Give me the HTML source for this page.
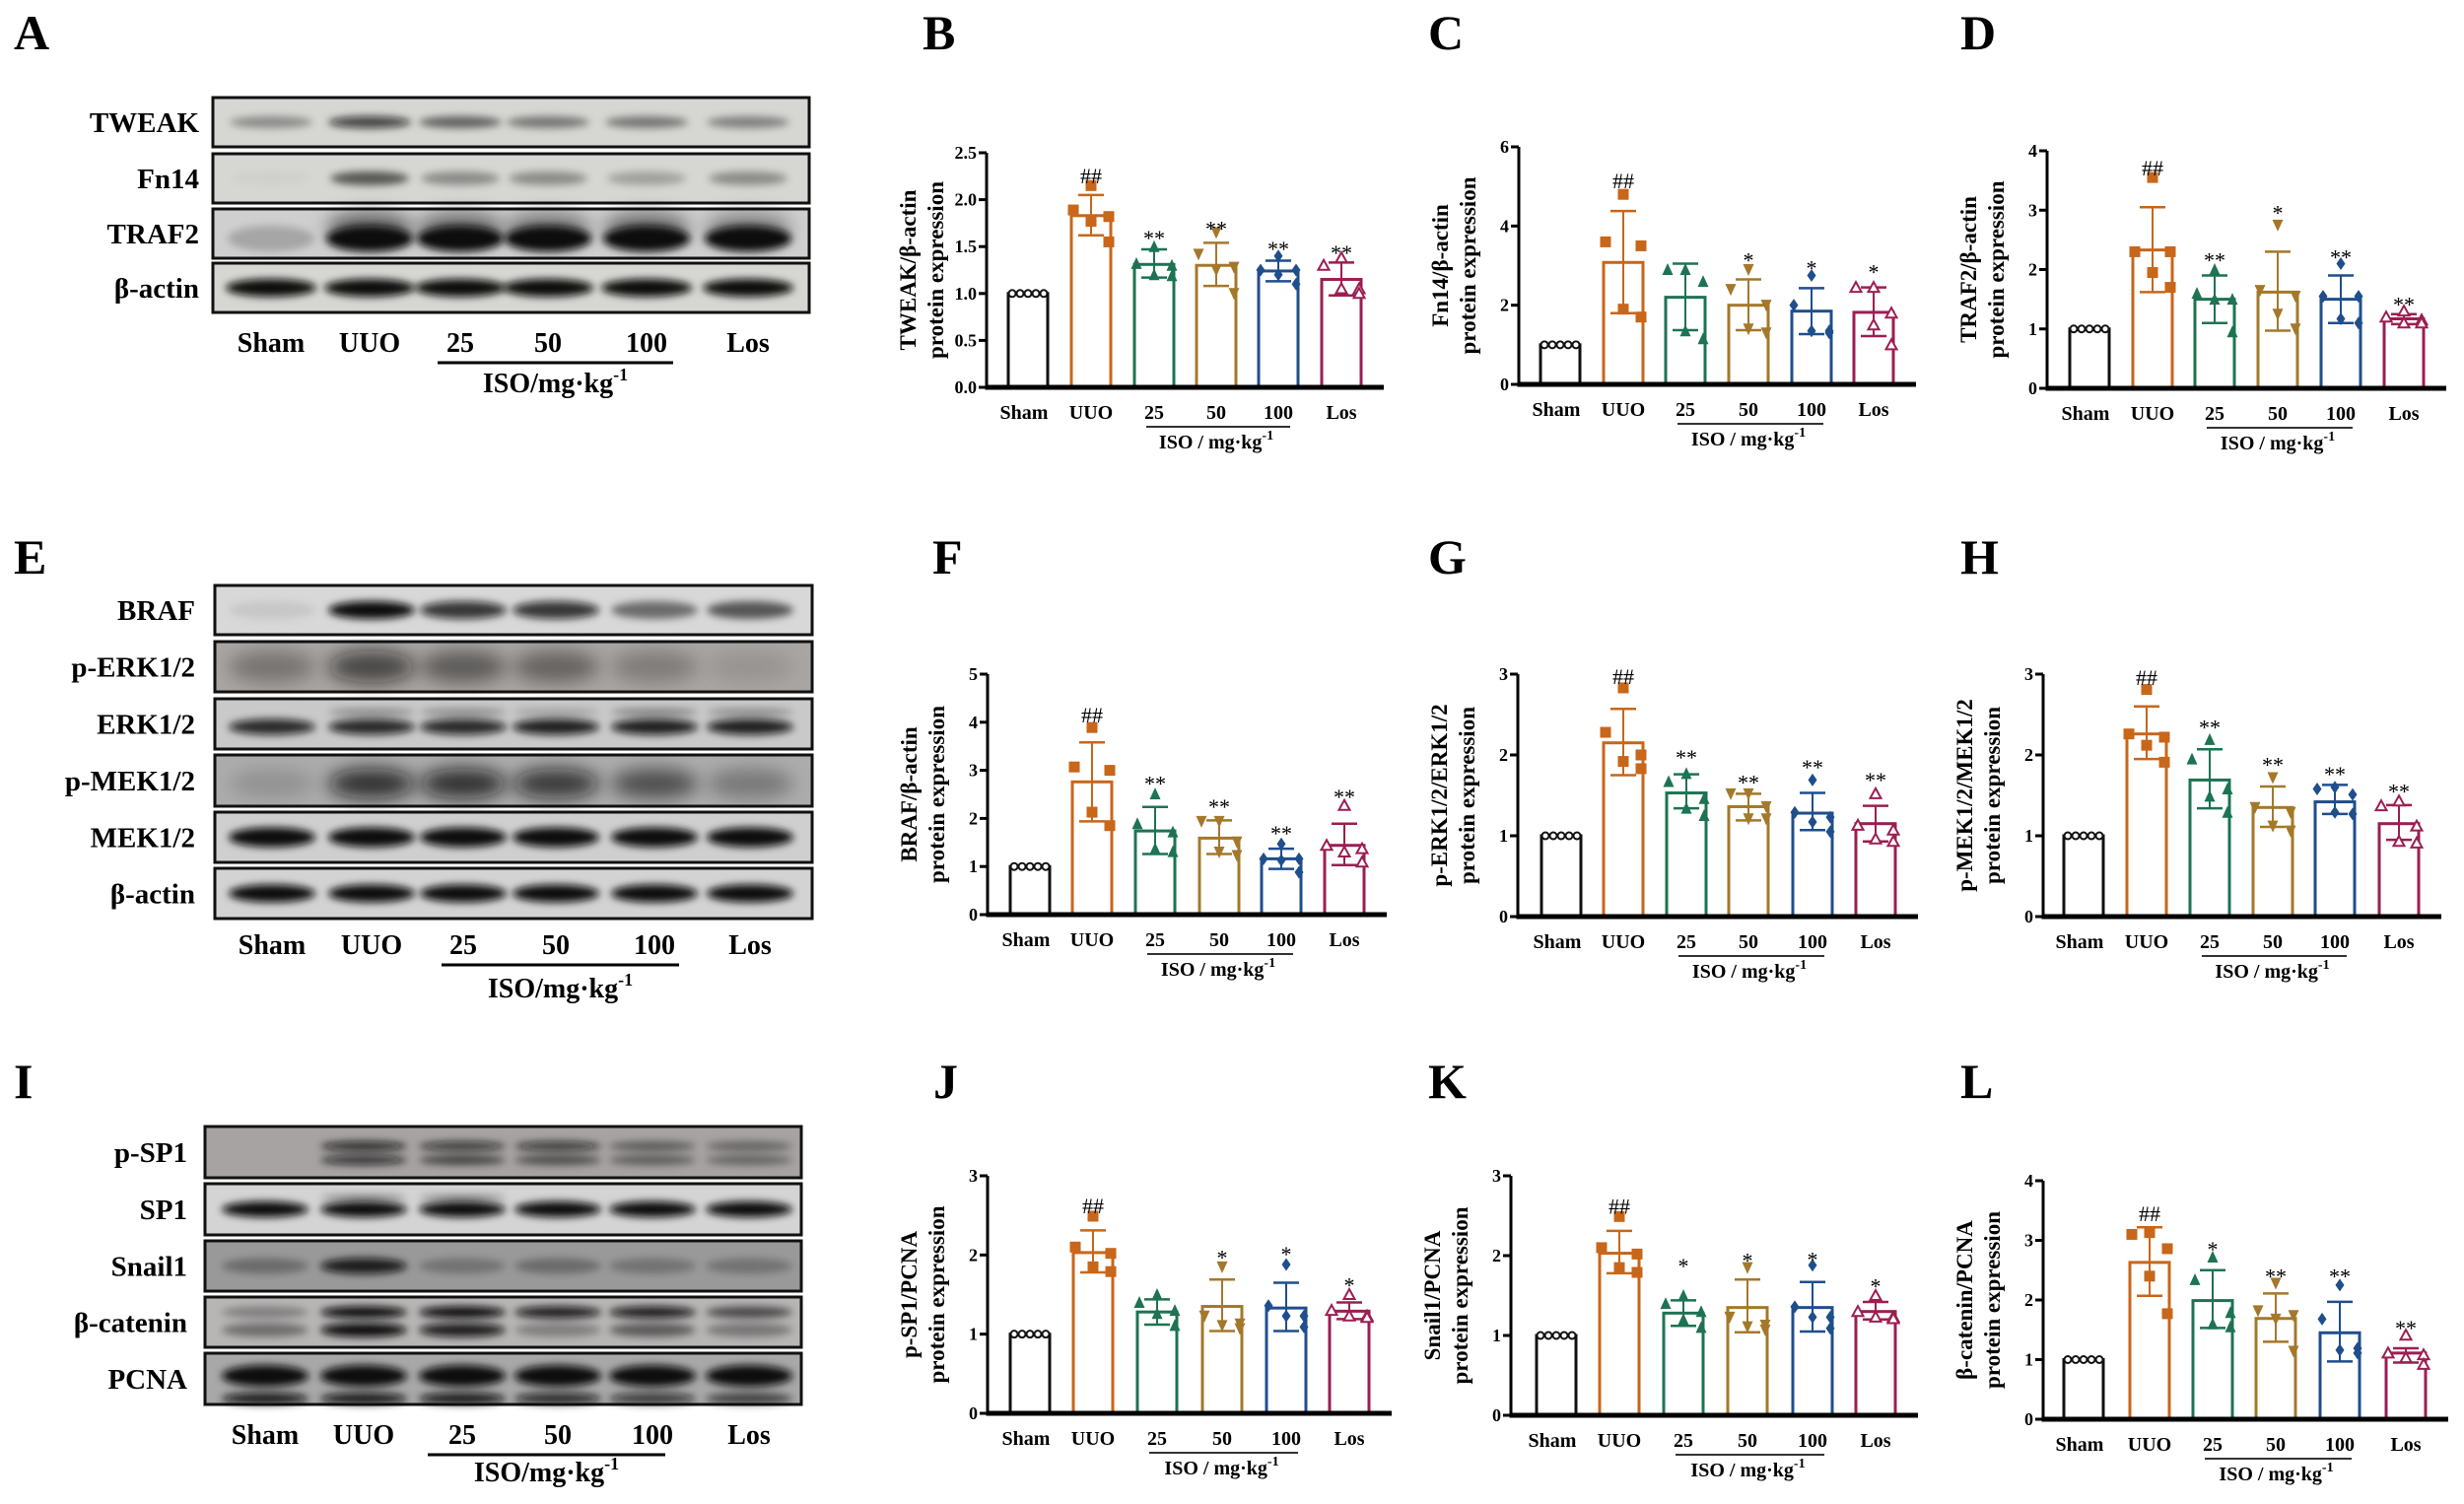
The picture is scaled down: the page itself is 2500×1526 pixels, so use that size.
<!DOCTYPE html>
<html><head><meta charset="utf-8">
<style>
html,body{margin:0;padding:0;background:#fff;}
svg{display:block;font-family:"Liberation Serif","DejaVu Serif",serif;}
</style></head>
<body>
<svg id="s" xmlns="http://www.w3.org/2000/svg" width="2500" height="1526" viewBox="0 0 2500 1526">
<defs>
<filter id="bl" x="-50%" y="-100%" width="200%" height="300%"><feGaussianBlur stdDeviation="4"/></filter>
<filter id="bl2" x="-50%" y="-100%" width="200%" height="300%"><feGaussianBlur stdDeviation="9"/></filter>
</defs>
<rect width="2500" height="1526" fill="#fff"/>
</svg>
<script>
const S=document.getElementById('s');const NS='http://www.w3.org/2000/svg';
function el(t,a,txt){const e=document.createElementNS(NS,t);for(const k in a)e.setAttribute(k,a[k]);if(txt!==undefined)e.textContent=txt;S.appendChild(e);return e;}
function text(x,y,s,size,anchor,extra){const a=Object.assign({x:x,y:y,'font-size':size,'font-weight':'bold','text-anchor':anchor||'middle',fill:'#000'},extra||{});return el('text',a,s);}
[['A',14,50],['B',936,50],['C',1449,50],['D',1989,50],['E',14,582],['F',946,582],['G',1449,582],['H',1989,582],['I',14,1114],['J',947,1114],['K',1449,1114],['L',1989,1114]].forEach(p=>text(p[1],p[2],p[0],50,'start'));

function blot(x0,x1,rows,lanes,labX,labels,lineY,ux0,ux1,isoY){
  rows.forEach(r=>{
    el('rect',{x:x0,y:r.y0,width:x1-x0,height:r.y1-r.y0,fill:r.bg||'#d6d6d3',stroke:'#111','stroke-width':3});
    const cy=(r.y0+r.y1)/2;
    (r.bands||[]).forEach(b=>{
      lanes.forEach((lx,i)=>{const v=b.v[i];if(v<=0)return;
        el('ellipse',{cx:lx,cy:cy+(b.dy||0),rx:b.rx||44,ry:b.ry||7,fill:'#0a0a0a','fill-opacity':v,filter:b.soft?'url(#bl2)':'url(#bl)'});});
    });
    text(labX,cy+10,r.name,29,'end');
  });
  labels.forEach((s,i)=>text(lanes[i],lineY,s,28));
  el('line',{x1:ux0,y1:lineY+11,x2:ux1,y2:lineY+11,stroke:'#000','stroke-width':3});
  const t=text((ux0+ux1)/2,isoY,'ISO/mg·kg',28);
  const ts=document.createElementNS(NS,'tspan');ts.setAttribute('dy',-12);ts.setAttribute('font-size',18);ts.textContent='-1';t.appendChild(ts);
}
const LBL=['Sham','UUO','25','50','100','Los'];
blot(216,821,[
 {name:'TWEAK',y0:99,y1:149,bands:[{v:[0.35,0.75,0.55,0.45,0.45,0.4],ry:6,rx:42}]},
 {name:'Fn14',y0:156,y1:206,bands:[{v:[0.03,0.6,0.35,0.35,0.25,0.35],ry:7,rx:40}]},
 {name:'TRAF2',y0:212,y1:262,bg:'#cfcfcf',bands:[{v:[0,0.5,0.45,0.4,0.45,0.35],ry:16,dy:-6,soft:1},{v:[0.2,1,1,1,1,1],ry:13,dy:5,rx:44}]},
 {name:'β-actin',y0:267,y1:317,bands:[{v:[1,1,1,1,1,1],ry:9,rx:46}]}
],[275,375,467,556,656,759],202,LBL,357,444,683,398);
blot(218,824,[
 {name:'BRAF',y0:594,y1:644,bg:'#d8d8d8',bands:[{v:[0.08,1,0.8,0.8,0.5,0.6],ry:9,rx:44}]},
 {name:'p-ERK1/2',y0:651,y1:702,bg:'#a9a5a2',bands:[{v:[0.3,0.65,0.45,0.4,0.25,0.1],ry:16,soft:1}]},
 {name:'ERK1/2',y0:709,y1:760,bg:'#c9c9c9',bands:[{v:[0,0.3,0.3,0.2,0.35,0.3],ry:4,dy:-12},{v:[0.85,0.85,0.85,0.9,0.9,0.9],ry:8,dy:3}]},
 {name:'p-MEK1/2',y0:766,y1:818,bg:'#acacac',bands:[{v:[0.15,0.8,0.8,0.75,0.55,0.3],ry:15,dy:3,soft:1}]},
 {name:'MEK1/2',y0:824,y1:875,bg:'#cfcfcf',bands:[{v:[1,1,1,1,1,1],ry:10}]},
 {name:'β-actin',y0:881,y1:932,bg:'#d3d3d3',bands:[{v:[1,1,1,1,1,1],ry:9}]}
],[276,377,470,564,664,761],198,LBL,968,448,689,1012);
blot(208,813,[
 {name:'p-SP1',y0:1143,y1:1195,bg:'#a7a3a3',bands:[{v:[0,0.8,0.7,0.7,0.45,0.4],ry:5,dy:-6},{v:[0,0.75,0.6,0.55,0.45,0.4],ry:5,dy:8}]},
 {name:'SP1',y0:1201,y1:1253,bg:'#d4d4d4',bands:[{v:[0,0.4,0.4,0,0,0],ry:3,dy:-12},{v:[1,1,1,1,1,1],ry:8}]},
 {name:'Snail1',y0:1259,y1:1310,bg:'#999999',bands:[{v:[0.3,0.9,0.25,0.3,0.25,0.25],ry:8}]},
 {name:'β-catenin',y0:1316,y1:1367,bg:'#b8b5b5',bands:[{v:[0.3,1,1,0.9,0.9,0.6],ry:6,dy:-10},{v:[0.4,1,0.9,0.3,0.5,0.35],ry:7,dy:8}]},
 {name:'PCNA',y0:1373,y1:1425,bg:'#a8a8a8',bands:[{v:[1,1,1,1,1,1],ry:11,dy:-3},{v:[0.9,0.9,0.9,0.8,0.7,0.6],ry:6,dy:20}]}
],[269,369,469,566,662,760],190,LBL,1465,434,675,1503);

const COL=['#111','#c8661a','#1d7352','#a4782a','#1f4e8c','#9b1e52'];
const OFF=[0,-18,18,0,18];
function marker(type,x,y,c){const s=5.5;
  if(type===0)el('circle',{cx:x,cy:y,r:3.5,fill:'#fff',stroke:c,'stroke-width':2});
  else if(type===1)el('rect',{x:x-s,y:y-s,width:2*s,height:2*s,fill:c});
  else if(type===2)el('polygon',{points:`${x},${y-s-1} ${x-s},${y+s} ${x+s},${y+s}`,fill:c});
  else if(type===3)el('polygon',{points:`${x},${y+s+1} ${x-s},${y-s} ${x+s},${y-s}`,fill:c});
  else if(type===4)el('polygon',{points:`${x},${y-s-1} ${x-s+1},${y} ${x},${y+s+1} ${x+s-1},${y}`,fill:c});
  else el('polygon',{points:`${x},${y-s} ${x-s},${y+s-1} ${x+s},${y+s-1}`,fill:'#fff',stroke:c,'stroke-width':2});
}
function chart(c){
  const Y=v=>c.y0-(v/c.max)*(c.y0-c.yt);
  const bw=40;
  c.data.forEach((d,i)=>{const cx=c.bx[i],col=COL[i];
    el('rect',{x:cx-bw/2,y:Y(d.m),width:bw,height:c.y0-Y(d.m),fill:'none',stroke:col,'stroke-width':3});
    if(d.e){el('line',{x1:cx,y1:Y(d.e[0]),x2:cx,y2:Y(d.e[1]),stroke:col,'stroke-width':2});
      [d.e[0],d.e[1]].forEach(v=>el('line',{x1:cx-13,y1:Y(v),x2:cx+13,y2:Y(v),stroke:col,'stroke-width':2.5}));}
    if(i===0){[-16,-8,0,8,16].forEach(o=>marker(0,cx+o,Y(1),col));}
    else d.p.forEach((v,k)=>marker(i,cx+OFF[k],Y(v),col));
    if(d.a)text(cx,Y(d.a)+10,d.a2,22,'middle',{'font-weight':'normal'});
  });
  el('line',{x1:c.ax,y1:c.yt,x2:c.ax,y2:c.y0,stroke:'#000','stroke-width':3});
  el('line',{x1:c.ax-1.5,y1:c.y0,x2:c.bx[5]+43,y2:c.y0,stroke:'#000','stroke-width':5});
  c.ticks.forEach(v=>{const y=Y(v);el('line',{x1:c.ax-8,y1:y,x2:c.ax,y2:y,stroke:'#000','stroke-width':3});
    text(c.ax-10,y+6,c.dec?v.toFixed(1):String(v),18,'end');});
  const ym=(c.y0+c.yt)/2;
  text(c.ax-72,ym,c.t1,23,'middle',{transform:`rotate(-90 ${c.ax-72} ${ym})`});
  text(c.ax-44,ym,'protein expression',23,'middle',{transform:`rotate(-90 ${c.ax-44} ${ym})`});
  const ly=c.y0+32;
  LBL.forEach((s,i)=>text(c.bx[i]+(i===0?-4:0),ly,s,20));
  el('line',{x1:c.bx[2]-8,y1:ly+8,x2:c.bx[4]+12,y2:ly+8,stroke:'#333','stroke-width':2});
  const t=text((c.bx[2]+c.bx[4])/2,ly+30,'ISO / mg·kg',20);
  const ts=document.createElementNS(NS,'tspan');ts.setAttribute('dy',-9);ts.setAttribute('font-size',14);ts.textContent='-1';t.appendChild(ts);
}
function D(m,e,p,a,a2){return {m,e,p,a,a2};}
const sham={m:1};
chart({ax:1001,y0:393,yt:155,max:2.5,dec:1,ticks:[0,0.5,1,1.5,2,2.5],bx:[1043,1107,1171,1234,1297,1361],t1:'TWEAK/β-actin',
 data:[sham,D(1.83,[1.62,2.05],[2.15,1.89,1.82,1.77,1.55],2.28,'##'),D(1.31,[1.17,1.47],[1.5,1.32,1.3,1.2,1.19],1.62,'**'),
 D(1.3,[1.08,1.54],[1.65,1.42,1.28,1.25,1.0],1.72,'**'),D(1.24,[1.13,1.35],[1.4,1.25,1.25,1.2,1.1],1.5,'**'),D(1.15,[0.98,1.33],[1.38,1.3,1.05,1.05,1.0],1.46,'**')]});
chart({ax:1541,y0:390,yt:149,max:6,ticks:[0,2,4,6],bx:[1583,1647,1710,1774,1838,1901],t1:'Fn14/β-actin',
 data:[sham,D(3.08,[1.8,4.38],[4.8,3.6,3.5,1.9,1.7],5.2,'##'),D(2.2,[1.37,3.05],[2.9,2.9,2.6,1.35,1.15]),
 D(2.0,[1.37,2.65],[2.9,2.4,2.0,1.4,1.3],3.2,'*'),D(1.85,[1.27,2.43],[2.75,2.0,1.35,1.35,1.3],3.0,'*'),D(1.82,[1.22,2.45],[2.45,2.45,1.8,1.5,1.0],2.9,'*')]});
chart({ax:2077,y0:394,yt:153,max:4,ticks:[0,1,2,3,4],bx:[2120,2184,2247,2311,2375,2439],t1:'TRAF2/β-actin',
 data:[sham,D(2.33,[1.62,3.05],[3.55,2.3,2.3,1.95,1.7],3.75,'##'),D(1.5,[1.1,1.9],[2.0,1.6,1.5,1.5,0.95],2.2,'**'),
 D(1.62,[0.97,2.3],[2.75,1.65,1.55,1.25,1.0],3.0,'*'),D(1.5,[1.1,1.9],[2.1,1.55,1.55,1.17,1.1],2.25,'**'),D(1.17,[1.08,1.25],[1.3,1.2,1.15,1.1,1.1],1.45,'**')]});
chart({ax:1002,y0:928,yt:684,max:5,ticks:[0,1,2,3,4,5],bx:[1045,1108,1172,1237,1300,1364],t1:'BRAF/β-actin',
 data:[sham,D(2.76,[1.94,3.58],[3.89,3.07,3.0,2.13,1.85],4.2,'##'),D(1.74,[1.26,2.24],[2.51,1.89,1.72,1.37,1.31],2.78,'**'),
 D(1.59,[1.26,1.96],[1.94,1.94,1.51,1.3,1.23],2.3,'**'),D(1.16,[0.95,1.37],[1.47,1.16,1.16,1.13,0.88],1.74,'**'),D(1.44,[1.03,1.89],[2.27,1.44,1.37,1.3,1.09],2.5,'**')]});
chart({ax:1540,y0:930,yt:684,max:3,ticks:[0,1,2,3],bx:[1584,1647,1711,1774,1839,1903],t1:'p-ERK1/2/ERK1/2',
 data:[sham,D(2.15,[1.75,2.57],[2.83,2.28,2.0,1.92,1.83],3.0,'##'),D(1.53,[1.34,1.76],[1.77,1.67,1.46,1.34,1.25],2.0,'**'),
 D(1.36,[1.19,1.52],[1.52,1.52,1.36,1.21,1.21],1.69,'**'),D(1.28,[1.07,1.53],[1.69,1.29,1.23,1.17,1.05],1.88,'**'),D(1.15,[0.93,1.37],[1.52,1.13,1.07,0.96,0.93],1.72,'**')]});
chart({ax:2073,y0:930,yt:684,max:3,ticks:[0,1,2,3],bx:[2114,2178,2242,2306,2369,2434],t1:'p-MEK1/2/MEK1/2',
 data:[sham,D(2.26,[1.95,2.6],[2.81,2.26,2.22,2.12,1.91],2.99,'##'),D(1.69,[1.34,2.07],[2.19,1.95,1.58,1.49,1.29],2.37,'**'),
 D(1.35,[1.11,1.61],[1.72,1.35,1.29,1.12,1.06],1.91,'**'),D(1.42,[1.27,1.63],[1.6,1.58,1.51,1.29,1.27],1.79,'**'),D(1.15,[0.95,1.38],[1.43,1.37,1.12,0.93,0.91],1.58,'**')]});
chart({ax:1002,y0:1434,yt:1193,max:3,ticks:[0,1,2,3],bx:[1045,1109,1174,1240,1305,1369],t1:'p-SP1/PCNA',
 data:[sham,D(2.03,[1.78,2.31],[2.49,2.1,2.02,1.85,1.79],2.65,'##'),D(1.28,[1.12,1.44],[1.5,1.4,1.3,1.26,1.11]),
 D(1.35,[1.04,1.69],[1.85,1.23,1.13,1.11,1.07],2.0,'*'),D(1.33,[1.04,1.65],[1.88,1.36,1.23,1.23,1.09],2.04,'*'),D(1.29,[1.19,1.4],[1.5,1.3,1.23,1.23,1.21],1.65,'*')]});
chart({ax:1533,y0:1436,yt:1193,max:3,ticks:[0,1,2,3],bx:[1579,1643,1708,1773,1839,1903],t1:'Snail1/PCNA',
 data:[sham,D(2.03,[1.78,2.31],[2.49,2.1,2.02,1.85,1.79],2.65,'##'),D(1.28,[1.12,1.44],[1.5,1.4,1.3,1.2,1.1],1.9,'*'),
 D(1.35,[1.04,1.7],[1.85,1.23,1.13,1.11,1.07],1.97,'*'),D(1.35,[1.05,1.67],[1.88,1.36,1.23,1.23,1.09],1.98,'*'),D(1.3,[1.2,1.42],[1.5,1.3,1.23,1.23,1.21],1.65,'*')]});
chart({ax:2073,y0:1440,yt:1198,max:4,ticks:[0,1,2,3,4],bx:[2114,2181,2245,2309,2374,2441],t1:'β-catenin/PCNA',
 data:[sham,D(2.63,[2.07,3.22],[3.13,3.1,2.86,2.4,1.77],3.49,'##'),D(1.99,[1.53,2.5],[2.72,2.34,1.79,1.6,1.55],2.89,'*'),
 D(1.69,[1.3,2.11],[2.28,1.82,1.74,1.68,1.14],2.44,'**'),D(1.45,[0.97,1.97],[2.25,1.68,1.19,1.16,1.11],2.44,'**'),D(1.11,[0.95,1.19],[1.41,1.11,1.08,1.03,0.92],1.57,'**')]});
</script>
</body></html>
